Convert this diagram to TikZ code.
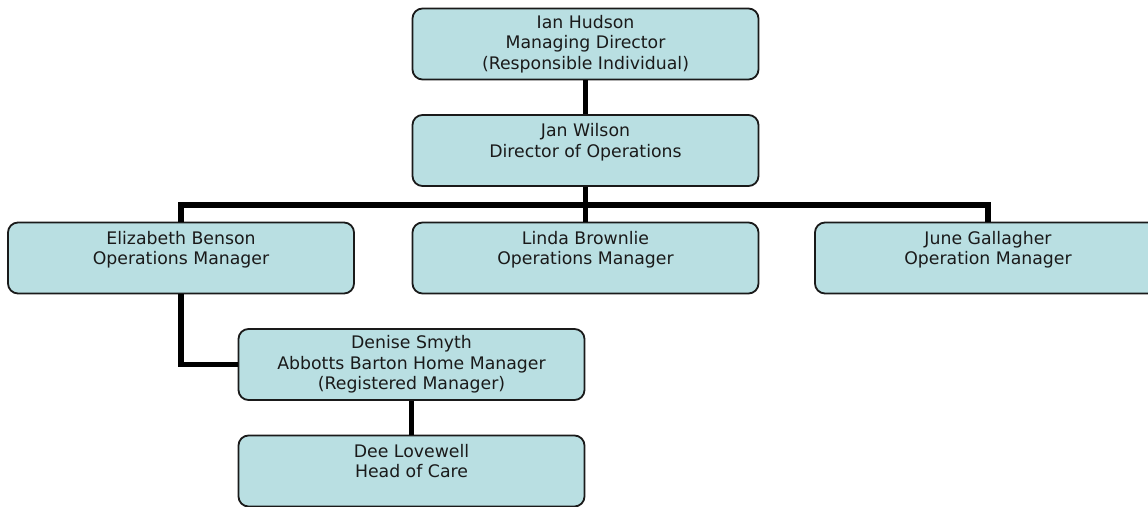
\documentclass[tikz,border=0pt]{standalone}
\usepackage{fontspec}
\setmainfont{DejaVu Sans}
\usepackage{tikz}
\definecolor{cardfill}{HTML}{B9DFE2}
\definecolor{ink}{HTML}{1A1A1A}
\tikzset{
  card/.style={draw=ink,line width=1.8pt,fill=cardfill,rounded corners=10pt,
    minimum width=346pt,minimum height=71pt,inner sep=0pt,align=center,
    text=ink,font=\fontsize{17.3}{20.5}\selectfont,
    execute at begin node={\rule{0pt}{23pt}}},
  link/.style={line width=5.5pt,black}
}

\begin{document}
\begin{tikzpicture}[x=1pt,y=-1pt]
  \useasboundingbox (0,0) rectangle (1148,506);
  \clip (0,0) rectangle (1148,506);
  % top of the chart
  \node[card] (hudson) at (585.5,44) {Ian Hudson\\Managing Director\\(Responsible Individual)};
  \node[card] (wilson) at (585.5,150.5) {Jan Wilson\\Director of Operations\\~};
  % operations managers
  \node[card] (benson) at (181,258) {Elizabeth Benson\\Operations Manager\\~};
  \node[card] (brownlie) at (585.5,258) {Linda Brownlie\\Operations Manager\\~};
  \node[card] (gallagher) at (988,258) {June Gallagher\\Operation Manager\\~};
  % home
  \node[card] (smyth) at (411.5,364.5) {Denise Smyth\\Abbotts Barton Home Manager\\(Registered Manager)};
  \node[card] (lovewell) at (411.5,471) {Dee Lovewell\\Head of Care\\~};
  \coordinate (bus) at (585.5,205);
  \draw[link] (hudson) -- (wilson);
  \draw[link] (wilson) -- (bus);
  \draw[link] (benson.north) |- (bus) -| (gallagher.north);
  \draw[link] (bus) -- (brownlie);
  \draw[link] (benson.south) |- (smyth.west);
  \draw[link] (smyth) -- (lovewell);
\end{tikzpicture}
\end{document}
